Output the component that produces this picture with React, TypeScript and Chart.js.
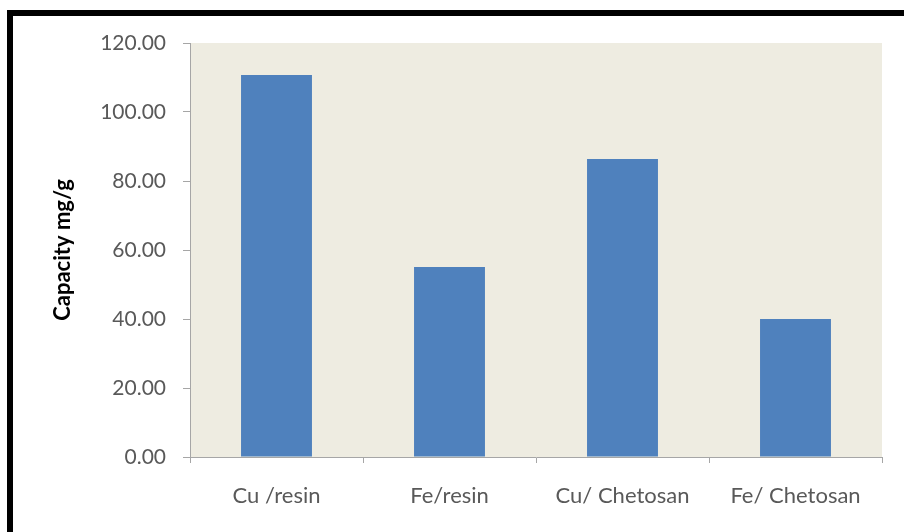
import React, { useEffect, useRef } from 'react';
import { Chart, registerables } from 'chart.js';

Chart.register(...registerables);

const categories = ['Cu /resin', 'Fe/resin', 'Cu/ Chetosan', 'Fe/ Chetosan'];
const capacity = [110.7, 55.1, 86.4, 40.0];
const yTicks = [0, 20, 40, 60, 80, 100, 120];

const FONT = 'Lato, "Open Sans", sans-serif';

export default function App() {
  const canvasRef = useRef<HTMLCanvasElement>(null);
  const chartRef = useRef<Chart | null>(null);

  useEffect(() => {
    if (!canvasRef.current) return;
    const ctx = canvasRef.current.getContext('2d');
    if (!ctx) return;
    if (chartRef.current) chartRef.current.destroy();

    chartRef.current = new Chart(ctx, {
      type: 'bar',
      data: {
        labels: categories,
        datasets: [{
          label: 'Capacity',
          data: capacity,
          backgroundColor: '#4f81bd',
          borderWidth: 0,
          barPercentage: 0.41,
          categoryPercentage: 1
        }]
      },
      plugins: [{
        id: 'plotBg',
        beforeDraw: (chart) => {
          const { ctx: c, chartArea: a } = chart;
          c.save();
          c.fillStyle = '#eeece1';
          c.fillRect(a.left, a.top, a.right - a.left, a.bottom - a.top);
          c.restore();
        }
      }],
      options: {
        animation: false,
        responsive: false,
        maintainAspectRatio: false,
        layout: { padding: { top: 43, right: 22, left: 0, bottom: 0 } },
        scales: {
          x: {
            afterFit: (s: any) => { s.height = 75; },
            grid: {
              offset: true,
              drawOnChartArea: false,
              drawTicks: true,
              tickLength: 6,
              color: '#a6a6a6'
            },
            border: { color: '#a6a6a6', width: 1 },
            ticks: {
              color: '#595959',
              padding: 20,
              font: { family: FONT, size: 22 }
            }
          },
          y: {
            min: 0,
            max: 120,
            afterFit: (s: any) => { s.width = 190; },
            afterBuildTicks: (s: any) => { s.ticks = yTicks.map(v => ({ value: v })); },
            grid: {
              drawOnChartArea: false,
              drawTicks: true,
              tickLength: 7,
              color: '#a6a6a6'
            },
            border: { color: '#a6a6a6', width: 1 },
            ticks: {
              color: '#595959',
              padding: 17,
              font: { family: FONT, size: 21 },
              callback: (v) => Number(v).toFixed(2)
            },
            title: {
              display: true,
              text: 'Capacity mg/g',
              color: '#000000',
              font: { family: FONT, size: 22, weight: 'bold' },
              padding: { top: 50, bottom: 0 }
            }
          }
        },
        plugins: {
          legend: { display: false },
          tooltip: { enabled: false }
        }
      }
    });

    return () => {
      if (chartRef.current) chartRef.current.destroy();
    };
  }, []);

  return (
    <div style={{ position: 'fixed', left: 0, top: 0, width: 904, height: 532, overflow: 'hidden', background: '#ffffff' }}>
      <canvas ref={canvasRef} width={904} height={532} style={{ position: 'absolute', left: 0, top: 0, width: 904, height: 532 }} />
      <div style={{ position: 'absolute', left: 7, top: 10, width: 1000, height: 1000, borderLeft: '6px solid #000', borderTop: '6px solid #000', pointerEvents: 'none' }} />
    </div>
  );
}
